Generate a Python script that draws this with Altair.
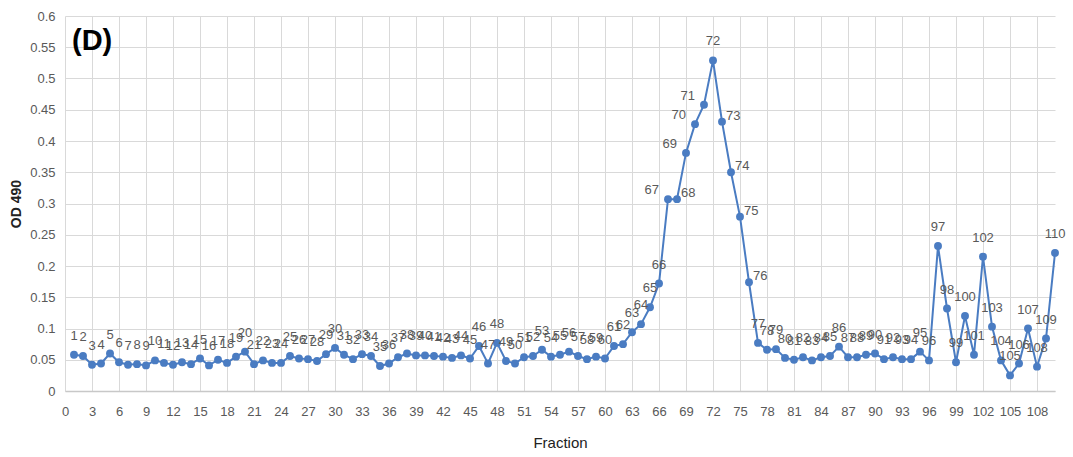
import altair as alt
import pandas as pd

# Fraction numbers and absorbance at 490 nm
fractions = list(range(1, 111))
od490 = [
    0.058, 0.056, 0.042, 0.044, 0.060, 0.046, 0.042, 0.043, 0.041, 0.049,
    0.045, 0.042, 0.046, 0.043, 0.052, 0.041, 0.050, 0.045, 0.055, 0.063,
    0.043, 0.049, 0.045, 0.045, 0.056, 0.052, 0.051, 0.048, 0.059, 0.069,
    0.058, 0.051, 0.059, 0.056, 0.040, 0.044, 0.054, 0.060, 0.057, 0.057,
    0.056, 0.055, 0.053, 0.057, 0.052, 0.072, 0.044, 0.077, 0.048, 0.044,
    0.054, 0.056, 0.066, 0.055, 0.058, 0.063, 0.056, 0.051, 0.055, 0.052,
    0.072, 0.075, 0.094, 0.107, 0.134, 0.172, 0.307, 0.307, 0.381, 0.427,
    0.458, 0.529, 0.431, 0.350, 0.279, 0.174, 0.077, 0.066, 0.067, 0.053,
    0.050, 0.054, 0.049, 0.054, 0.056, 0.071, 0.054, 0.054, 0.058, 0.060,
    0.051, 0.054, 0.051, 0.051, 0.063, 0.049, 0.232, 0.132, 0.046, 0.120,
    0.058, 0.215, 0.103, 0.049, 0.025, 0.044, 0.100, 0.039, 0.084, 0.221,
]

x_ticks = [0, 3, 6, 9, 12, 15, 18, 21, 24, 27, 30, 33, 36, 39, 42, 45, 48, 51,
           54, 57, 60, 63, 66, 69, 72, 75, 78, 81, 84, 87, 90, 93, 96, 99, 102,
           105, 108]
y_ticks = [0, 0.05, 0.1, 0.15, 0.2, 0.25, 0.3, 0.35, 0.4, 0.45, 0.5, 0.55, 0.6]

# label groups around the main peak
left_labels = [67, 69, 70, 71]
right_labels = [68, 73, 74, 75, 76]

df = pd.DataFrame({"Fraction": fractions, "OD": od490})
df["side"] = df["Fraction"].map(
    lambda f: "left" if f in left_labels else ("right" if f in right_labels else "top")
)

BLUE = "#4a7cc2"
GRAY = "#595959"
FONT = "Liberation Sans"

x_enc = alt.X(
    "Fraction:Q",
    scale=alt.Scale(domain=[0, 110], nice=False, zero=True),
    axis=alt.Axis(
        values=x_ticks, title="Fraction", grid=True, gridColor="#d9d9d9",
        domainColor="#c8c8c8", domainWidth=1.5, ticks=False, labelPadding=14,
        labelOverlap=False, labelFlush=False,
        labelColor=GRAY, labelFont=FONT, labelFontSize=13,
        titleFont=FONT, titleFontSize=15, titleFontWeight="normal",
        titleColor="#222222", titlePadding=17,
    ),
)
y_enc = alt.Y(
    "OD:Q",
    scale=alt.Scale(domain=[0, 0.6], nice=False),
    axis=alt.Axis(
        values=y_ticks, format=".2~f", title="OD 490", grid=True,
        gridColor="#d9d9d9", domain=False, ticks=False, labelPadding=10,
        labelOverlap=False, labelFlush=False,
        labelColor=GRAY, labelFont=FONT, labelFontSize=13,
        titleFont=FONT, titleFontSize=14, titleFontWeight="bold",
        titleColor="#222222", titlePadding=6,
    ),
)

base = alt.Chart(df).encode(x=x_enc, y=y_enc)

line = base.mark_line(color=BLUE, strokeWidth=2)
points = base.mark_circle(color=BLUE, opacity=1, size=62)

label_style = dict(font=FONT, fontSize=13, color=GRAY)
top_text = base.transform_filter(alt.datum.side == "top").mark_text(
    dy=-19, **label_style
).encode(text="Fraction:Q")
left_text = base.transform_filter(alt.datum.side == "left").mark_text(
    align="right", dx=-9, dy=-9, **label_style
).encode(text="Fraction:Q")
right_text = base.transform_filter(alt.datum.side == "right").mark_text(
    align="left", dx=4, dy=-6, **label_style
).encode(text="Fraction:Q")

panel = alt.Chart(pd.DataFrame({"t": ["(D)"]})).mark_text(
    align="left", baseline="middle", font=FONT, fontSize=29,
    fontWeight="bold", color="#000000",
).encode(x=alt.value(7), y=alt.value(25), text="t:N")

chart = (
    alt.layer(line, points, top_text, left_text, right_text, panel)
    .properties(
        width=990, height=375,
        autosize=alt.AutoSizeParams(type="none"),
        padding={"left": 65, "top": 16, "right": 18, "bottom": 66},
    )
    .configure_view(stroke=None)
)

chart.save("out.html", embed_options={"renderer": "svg", "actions": False})
